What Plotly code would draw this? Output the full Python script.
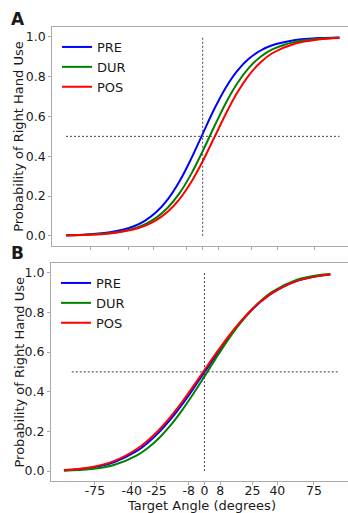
import numpy as np
import plotly.graph_objects as go

# ---------------- data ----------------
tick_angles = [-75, -40, -25, -8, 0, 8, 25, 40, 75]          # degrees (tick labels)
y_ticks = [0.0, 0.2, 0.4, 0.6, 0.8, 1.0]
series_names = ["PRE", "DUR", "POS"]
series_colors = ["#0000ff", "#008000", "#ff0000"]

# Panel A: x is sin(target angle)
xa = [-1.18, -1.0, -0.8, -0.6, -0.5, -0.4, -0.3, -0.2, -0.1, 0.0,
      0.1, 0.2, 0.3, 0.4, 0.5, 0.6, 0.8, 1.0, 1.18]
a_pre = [0.0025, 0.0062, 0.0171, 0.0463, 0.0750, 0.1192, 0.1844, 0.274, 0.3867, 0.5128,
         0.6374, 0.746, 0.8306, 0.8912, 0.9318, 0.958, 0.9846, 0.9944, 0.9978]
a_dur = [0.0020, 0.0050, 0.0134, 0.0356, 0.0573, 0.0911, 0.1419, 0.2142, 0.310, 0.4256,
         0.5498, 0.6682, 0.7685, 0.8455, 0.9002, 0.937, 0.9759, 0.9910, 0.9963]
a_pos = [0.0019, 0.0045, 0.0119, 0.0311, 0.0497, 0.0785, 0.1218, 0.1842, 0.2689, 0.3747,
         0.4939, 0.6139, 0.7214, 0.8083, 0.8729, 0.918, 0.9674, 0.9875, 0.9947]

# Panel B
xb = [-1.24, -1.0, -0.8, -0.6, -0.5, -0.4, -0.3, -0.2, -0.1, 0.0,
      0.1, 0.2, 0.3, 0.4, 0.5, 0.6, 0.8, 1.0, 1.11]
b_pre = [0.0041, 0.0165, 0.0440, 0.1001, 0.1428, 0.1962, 0.2602, 0.3336, 0.4141, 0.4983,
         0.5826, 0.6632, 0.737, 0.8015, 0.8554, 0.8984, 0.9553, 0.9831, 0.9908]
b_dur = [0.0020, 0.0099, 0.0304, 0.0778, 0.1164, 0.1670, 0.2300, 0.3046, 0.3882, 0.4773,
         0.5677, 0.6546, 0.734, 0.8029, 0.8599, 0.9044, 0.9609, 0.9867, 0.9932]
b_pos = [0.0052, 0.0197, 0.0501, 0.1099, 0.1541, 0.2089, 0.2736, 0.3468, 0.4266, 0.5091,
         0.5915, 0.670, 0.7415, 0.804, 0.8565, 0.8985, 0.9545, 0.9824, 0.9902]

# reference (dashed) lines
a_hline_x = [-1.18, 1.18]
b_hline_x = [-1.171, 1.175]
hline_y = [0.5, 0.5]
vline_x = [0.0, 0.0]
vline_y = [0.0, 1.0]

# ---------------- figure ----------------
W, H = 348, 513
FONT = "DejaVu Sans"
TXT = "#1a1a1a"
SPINE = "#aaaaaa"

fig = go.Figure()

def add_panel(xs, ys_list, hx, xaxis, yaxis, legend, grp):
    for name, col, ys in zip(series_names, series_colors, ys_list):
        fig.add_trace(go.Scatter(
            x=xs, y=ys, mode="lines", name=name,
            line=dict(color=col, width=2, shape="spline", smoothing=1.0),
            xaxis=xaxis, yaxis=yaxis, legend=legend, legendgroup=grp + name))
    fig.add_trace(go.Scatter(x=hx, y=hline_y, mode="lines", showlegend=False,
                             line=dict(color="#444444", width=1, dash="2px,2px"),
                             xaxis=xaxis, yaxis=yaxis, hoverinfo="skip"))
    fig.add_trace(go.Scatter(x=vline_x, y=vline_y, mode="lines", showlegend=False,
                             line=dict(color="#444444", width=1, dash="2px,2px"),
                             xaxis=xaxis, yaxis=yaxis, hoverinfo="skip"))

add_panel(xa, [a_pre, a_dur, a_pos], a_hline_x, "x", "y", "legend", "a")
add_panel(xb, [b_pre, b_dur, b_pos], b_hline_x, "x2", "y2", "legend2", "b")

tickvals = list(np.sin(np.deg2rad(tick_angles)))
ticktext = [str(a) for a in tick_angles]

def px_x(p):
    return p / W

def px_y(p):
    return (H - p) / H

xcommon = dict(showgrid=False, zeroline=False, showline=True, linecolor=SPINE, linewidth=1.2,
               mirror=True, ticks="outside", ticklen=3, tickcolor=SPINE, tickwidth=1,
               tickvals=tickvals, ticktext=ticktext, ticklabelstandoff=-5,
               tickfont=dict(family=FONT, size=12.5, color=TXT))
ycommon = dict(showgrid=False, zeroline=False, showline=True, linecolor=SPINE, linewidth=1.2,
               ticks="outside", ticklen=3, tickcolor=SPINE, tickwidth=1,
               tickvals=y_ticks, tickformat=".1f", range=[-0.05, 1.05],
               tickfont=dict(family=FONT, size=12.5, color=TXT))

fig.update_layout(
    width=W, height=H, margin=dict(l=0, r=0, t=0, b=0),
    paper_bgcolor="white", plot_bgcolor="white",
    font=dict(family=FONT, color=TXT),
    xaxis=dict(domain=[px_x(52.3), 1], range=[-1.298, 1.254], showticklabels=False,
               anchor="y", **xcommon),
    yaxis=dict(domain=[px_y(245.7), px_y(27)], anchor="x", **ycommon),
    xaxis2=dict(domain=[px_x(51), 1], range=[-1.354, 1.266], anchor="y2", **xcommon),
    yaxis2=dict(domain=[px_y(481), px_y(262.7)], anchor="x2", **ycommon),
    legend=dict(x=px_x(57), y=px_y(32), xanchor="left", yanchor="top",
                bgcolor="rgba(0,0,0,0)", font=dict(family=FONT, size=13, color=TXT),
                tracegroupgap=0, itemclick=False),
    legend2=dict(x=px_x(56), y=px_y(268), xanchor="left", yanchor="top",
                 bgcolor="rgba(0,0,0,0)", font=dict(family=FONT, size=13, color=TXT),
                 tracegroupgap=0, itemclick=False),
    showlegend=True,
)

ann = [
    dict(text="<b>A</b>", x=px_x(18.3), y=px_y(19.5), font=dict(size=17)),
    dict(text="<b>B</b>", x=px_x(17.5), y=px_y(253.5), font=dict(size=17)),
    dict(text="Probability of Right Hand Use", x=px_x(18.5), y=px_y(136.3),
         textangle=-90, font=dict(size=13)),
    dict(text="Probability of Right Hand Use", x=px_x(18.5), y=px_y(372),
         textangle=-90, font=dict(size=13)),
    dict(text="Target Angle (degrees)", x=px_x(201), y=px_y(505), font=dict(size=13)),
]
for a in ann:
    a.update(xref="paper", yref="paper", showarrow=False, xanchor="center", yanchor="middle")
    a["font"].update(family=FONT, color=TXT)
    fig.add_annotation(**a)

fig.write_html("out.html")
